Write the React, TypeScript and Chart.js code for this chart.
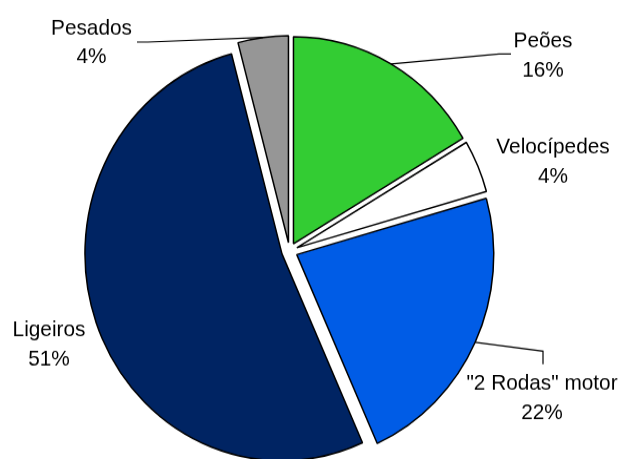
import React, { useEffect, useRef } from "react";
import { Chart, registerables } from "chart.js";

Chart.register(...registerables);

// ---- data ----
const categories = ["Peões", "Velocípedes", "\"2 Rodas\" motor", "Ligeiros", "Pesados"];
const shares = [16, 4, 22, 51, 4];
const percentLabels = ["16%", "4%", "22%", "51%", "4%"];
const sliceColors = ["#33CC33", "#FFFFFF", "#005CE6", "#002463", "#969696"];

// ---- layout (canvas px, before vertical stretch) ----
const CANVAS_W = 625;
const CANVAS_H = 437;
const STRETCH_Y = 459 / 437;
const EXPLODE = 8;
const FONT = '20.8px "Liberation Sans", Arial, sans-serif';
const LINE_GAP = 27.6;

const labelLayout = [
  { x: 543, base: 45, leader: [[499, 51.4], [511, 51.4]] },
  { x: 553, base: 146, leader: null },
  { x: 542, base: 371.4, leader: [[543, 334.3], [543, 346.7]] },
  { x: 49, base: 320, leader: null },
  { x: 91.5, base: 32.7, leader: [[148, 40], [137, 40]] },
];

const explodePlugin = {
  id: "explodeSlices",
  afterDatasetUpdate(chart: any, args: any) {
    args.meta.data.forEach((arc: any) => {
      const mid = (arc.startAngle + arc.endAngle) / 2;
      arc.x += EXPLODE * Math.cos(mid);
      arc.y += EXPLODE * Math.sin(mid);
    });
  },
};

const labelPlugin = {
  id: "sliceLabels",
  afterDatasetsDraw(chart: any) {
    const ctx = chart.ctx;
    const meta = chart.getDatasetMeta(0);
    ctx.save();
    meta.data.forEach((arc: any, i: number) => {
      const lay = labelLayout[i];
      if (lay.leader) {
        const mid = (arc.startAngle + arc.endAngle) / 2;
        const ax = arc.x + arc.outerRadius * Math.cos(mid);
        const ay = arc.y + arc.outerRadius * Math.sin(mid);
        ctx.beginPath();
        ctx.moveTo(ax, ay);
        lay.leader.forEach((p: number[]) => ctx.lineTo(p[0], p[1]));
        ctx.strokeStyle = "#000";
        ctx.lineWidth = 1.2;
        ctx.stroke();
      }
      ctx.fillStyle = "#000";
      ctx.font = FONT;
      ctx.textAlign = "center";
      ctx.textBaseline = "alphabetic";
      ctx.fillText(categories[i], lay.x, lay.base);
      ctx.fillText(percentLabels[i], lay.x, lay.base + LINE_GAP);
    });
    ctx.restore();
  },
};

export default function App() {
  const ref = useRef<HTMLCanvasElement | null>(null);

  useEffect(() => {
    if (!ref.current) return;
    const chart = new Chart(ref.current, {
      type: "pie",
      data: {
        labels: categories,
        datasets: [
          {
            data: shares,
            backgroundColor: sliceColors,
            borderColor: "#000000",
            borderWidth: 1.5,
            clip: false,
          } as any,
        ],
      },
      options: {
        responsive: false,
        maintainAspectRatio: false,
        devicePixelRatio: 1,
        animation: false,
        radius: 197,
        rotation: 0,
        layout: { padding: { left: 0, right: 46, top: 41, bottom: 0 } },
        plugins: {
          legend: { display: false },
          tooltip: { enabled: false },
        },
        events: [],
      } as any,
      plugins: [explodePlugin, labelPlugin],
    });
    return () => chart.destroy();
  }, []);

  return (
    <div
      style={{
        position: "absolute",
        left: 0,
        top: 0,
        width: CANVAS_W,
        height: 459,
        overflow: "hidden",
        background: "#ffffff",
      }}
    >
      <div
        style={{
          width: CANVAS_W,
          height: CANVAS_H,
          transform: `scaleY(${STRETCH_Y})`,
          transformOrigin: "0 0",
        }}
      >
        <canvas
          ref={ref}
          width={CANVAS_W}
          height={CANVAS_H}
          style={{ display: "block", width: CANVAS_W, height: CANVAS_H }}
        />
      </div>
    </div>
  );
}
